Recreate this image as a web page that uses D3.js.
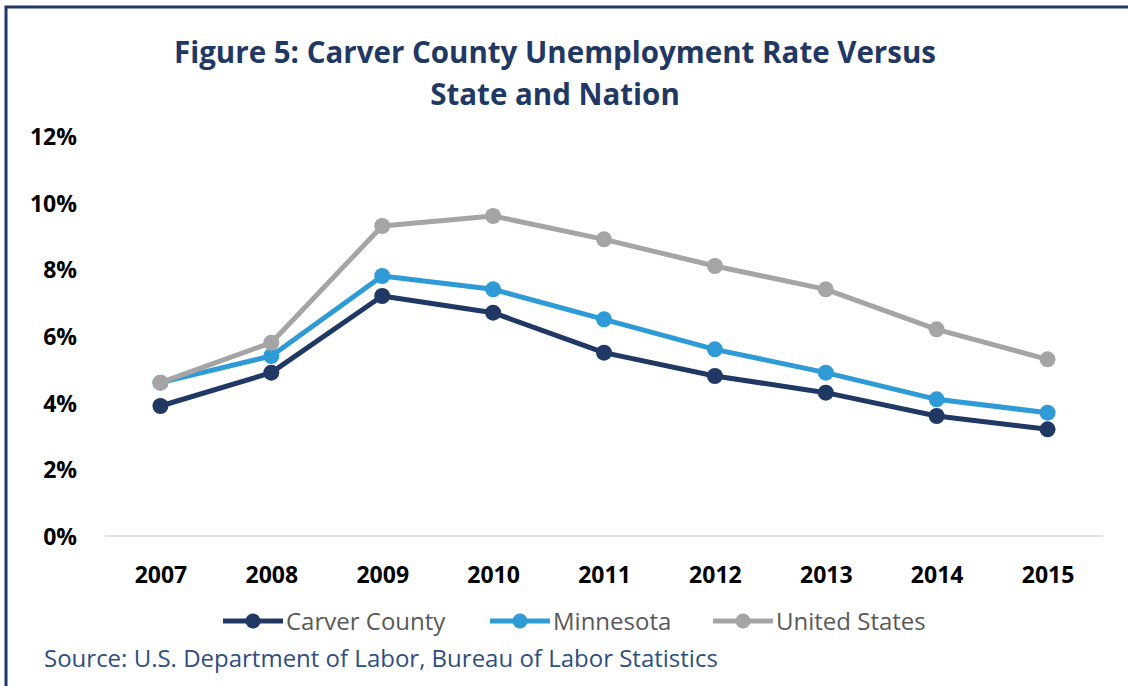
<!DOCTYPE html>
<html>
<head>
<meta charset="utf-8">
<script src="https://cdn.jsdelivr.net/npm/d3@7"></script>
<style>
  html, body { margin: 0; padding: 0; background: #fff; }
  svg { display: block; font-family: "Open Sans", "Noto Sans", sans-serif; }
</style>
</head>
<body>
<svg id="chart" width="1128" height="686"></svg>
<script>
// Unemployment rate (%) by year
const years = ["2007", "2008", "2009", "2010", "2011", "2012", "2013", "2014", "2015"];
const carverCounty = [3.9, 4.9, 7.2, 6.7, 5.5, 4.8, 4.3, 3.6, 3.2];
const minnesota    = [4.6, 5.4, 7.8, 7.4, 6.5, 5.6, 4.9, 4.1, 3.7];
const unitedStates = [4.6, 5.8, 9.3, 9.6, 8.9, 8.1, 7.4, 6.2, 5.3];
const yTicks = [0, 2, 4, 6, 8, 10, 12];
const seriesNames = ["Carver County", "Minnesota", "United States"];

const series = [
  { name: seriesNames[0], values: carverCounty, color: "#1f3864" },
  { name: seriesNames[1], values: minnesota,    color: "#2e9bd7" },
  { name: seriesNames[2], values: unitedStates, color: "#a5a5a5" }
];

const svg = d3.select("#chart");
const navy = "#1f3864";

// Frame around the figure
svg.append("path")
  .attr("d", "M6,686 V7 H1128")
  .attr("fill", "none")
  .attr("stroke", navy)
  .attr("stroke-width", 3);

// Title
const title = svg.append("text")
  .attr("text-anchor", "middle")
  .attr("fill", navy)
  .attr("font-weight", 700)
  .attr("font-size", 29.5);
title.append("tspan").attr("x", 555).attr("y", 63).text("Figure 5: Carver County Unemployment Rate Versus");
title.append("tspan").attr("x", 555).attr("y", 105).text("State and Nation");

const x = d3.scalePoint().domain(years).range([105, 1103]).padding(0.5);
const y = d3.scaleLinear().domain([0, 12]).range([536, 136]);

// Baseline
svg.append("line")
  .attr("x1", 105).attr("x2", 1103)
  .attr("y1", y(0)).attr("y2", y(0))
  .attr("stroke", "#d9d9d9").attr("stroke-width", 1.5);

// Y axis labels
const yAxis = d3.axisLeft(y).tickValues(yTicks).tickFormat(d => d + "%").tickSize(0).tickPadding(0);
const yg = svg.append("g").attr("transform", "translate(77,1)").call(yAxis);
yg.select(".domain").remove();
yg.selectAll("text")
  .attr("font-family", "\"Open Sans\", sans-serif")
  .attr("font-size", 23).attr("font-weight", 700).attr("fill", "#000");

// X axis labels
const xAxis = d3.axisBottom(x).tickSize(0).tickPadding(0);
const xg = svg.append("g").attr("transform", "translate(0,567)").call(xAxis);
xg.select(".domain").remove();
xg.selectAll("text")
  .attr("font-family", "\"Open Sans\", sans-serif")
  .attr("font-size", 23).attr("font-weight", 700).attr("fill", "#000");

// Lines and markers
const line = d3.line().x((d, i) => x(years[i])).y(d => y(d));
const g = svg.append("g");
series.forEach(s => {
  g.append("path")
    .attr("d", line(s.values))
    .attr("fill", "none")
    .attr("stroke", s.color)
    .attr("stroke-width", 5)
    .attr("stroke-linejoin", "round");
  g.selectAll(null).data(s.values).enter().append("circle")
    .attr("cx", (d, i) => x(years[i]))
    .attr("cy", d => y(d))
    .attr("r", 8)
    .attr("fill", s.color);
});

// Legend
const legendX = [223, 490, 713];
const legend = svg.append("g");
series.forEach((s, i) => {
  const lx = legendX[i], ly = 621;
  legend.append("line")
    .attr("x1", lx).attr("x2", lx + 60).attr("y1", ly).attr("y2", ly)
    .attr("stroke", s.color).attr("stroke-width", 5);
  legend.append("circle").attr("cx", lx + 30).attr("cy", ly).attr("r", 7.5).attr("fill", s.color);
  legend.append("text")
    .attr("x", lx + 63).attr("y", ly + 9)
    .attr("font-size", 24).attr("fill", "#595959")
    .text(s.name);
});

// Source note
svg.append("text")
  .attr("x", 44).attr("y", 667)
  .attr("font-size", 24).attr("fill", "#2f4f80")
  .text("Source: U.S. Department of Labor, Bureau of Labor Statistics");
</script>
</body>
</html>
